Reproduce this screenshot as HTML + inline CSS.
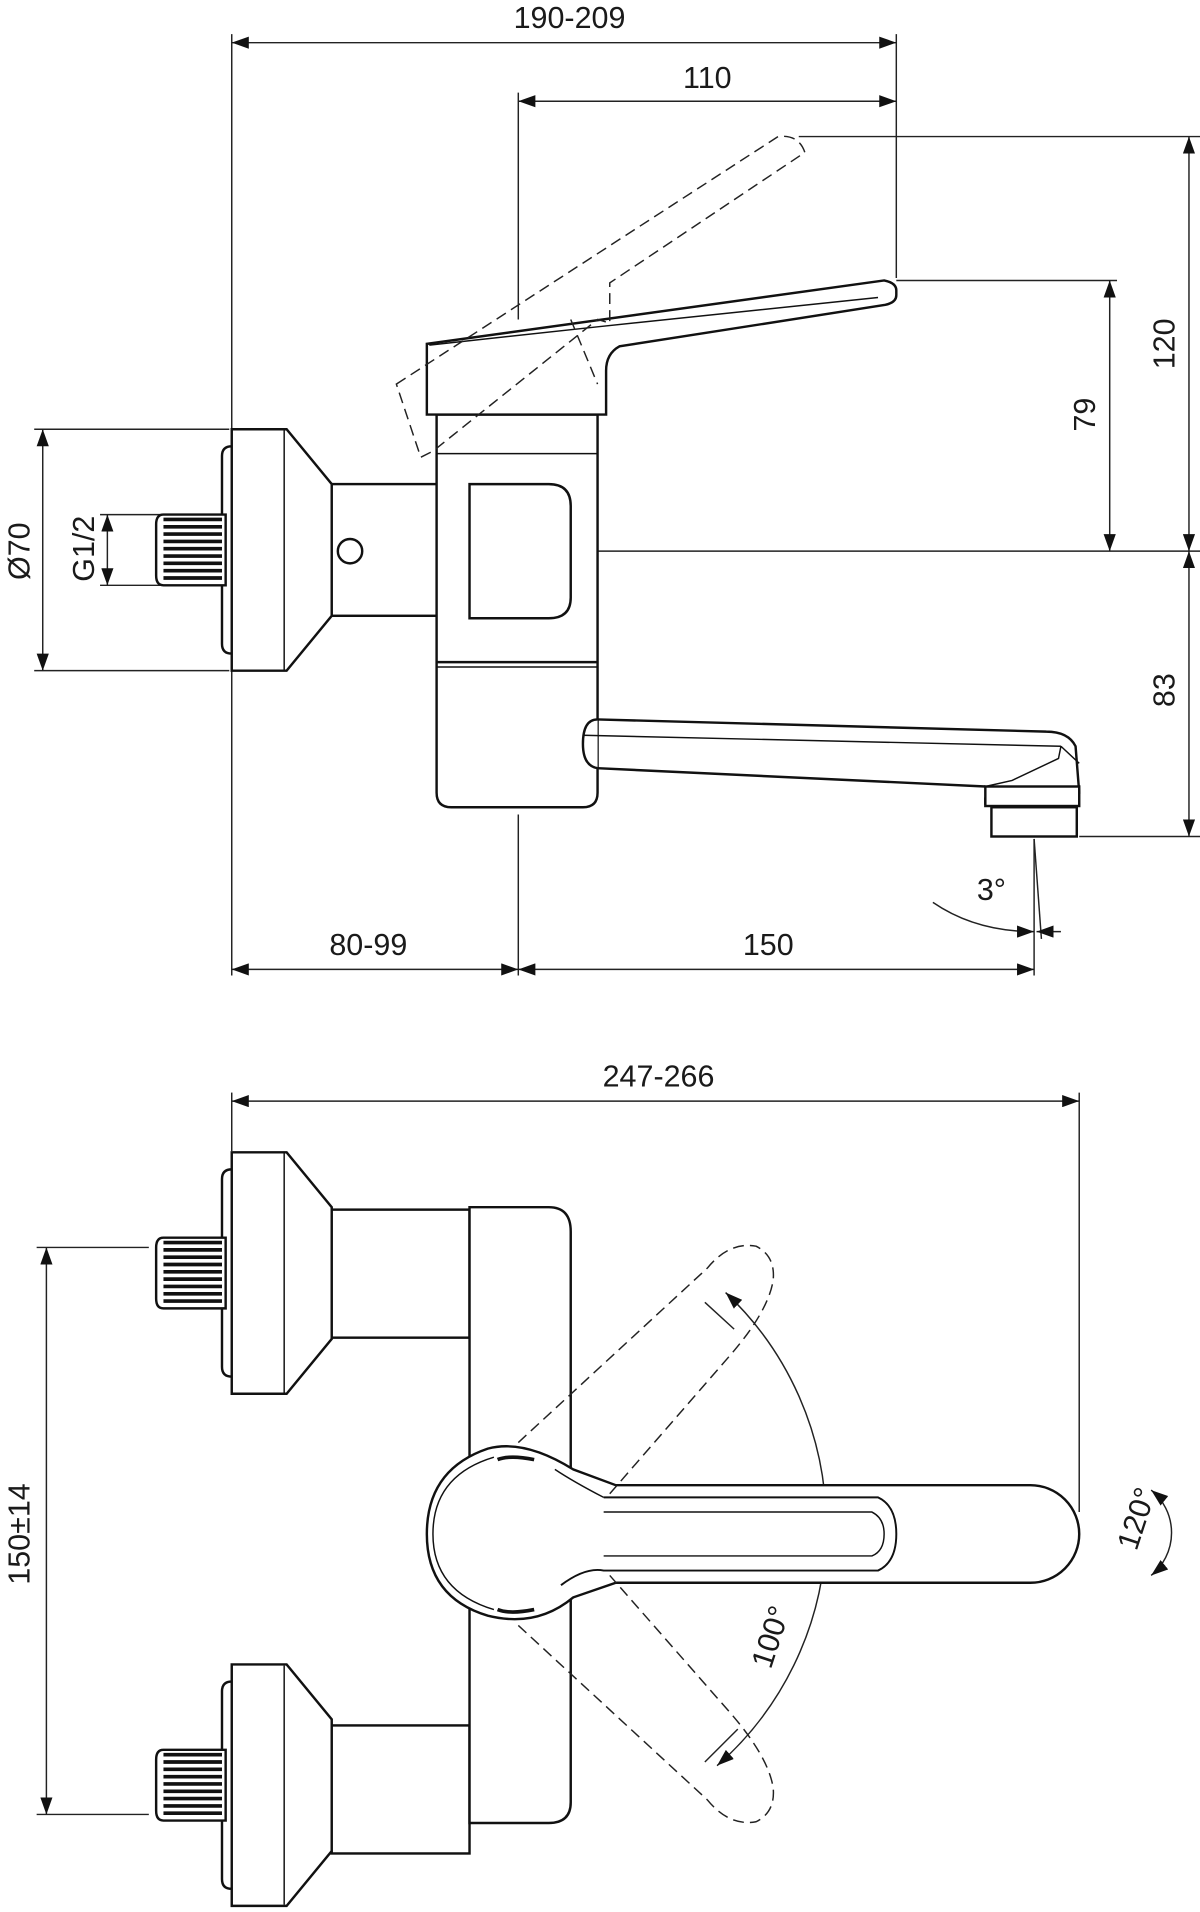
<!DOCTYPE html>
<html><head><meta charset="utf-8"><style>html,body{margin:0;padding:0;background:#fff}svg{display:block}text{font-family:"Liberation Sans",sans-serif;font-size:25px;fill:#1a1a1a}</style></head><body>
<svg width="1200" height="1912" viewBox="0 0 984 1568" xmlns="http://www.w3.org/2000/svg">
<defs>
<marker id="a" viewBox="0 0 14 10" refX="14" refY="5" markerWidth="14" markerHeight="10" markerUnits="userSpaceOnUse" orient="auto-start-reverse"><path d="M0,0L14,5L0,10z" fill="#111"/></marker>
<g id="fl" fill="none" stroke="#111" stroke-width="2">
<path d="M190,0H235L272,45V153L235,198H190Z" fill="#fff"/>
<line x1="233" y1="1" x2="233" y2="197" stroke-width="1.2"/>
<path d="M190,14Q182,14 182,22V176Q182,184 190,184" />
<path d="M185,70H134Q128,70 128,78V120Q128,128 134,128H185Z" fill="#fff"/>
<g stroke-width="3"><line x1="134" y1="74" x2="182" y2="74"/><line x1="134" y1="80" x2="182" y2="80"/><line x1="134" y1="86" x2="182" y2="86"/><line x1="134" y1="92" x2="182" y2="92"/><line x1="134" y1="98" x2="182" y2="98"/><line x1="134" y1="104" x2="182" y2="104"/><line x1="134" y1="110" x2="182" y2="110"/><line x1="134" y1="116" x2="182" y2="116"/><line x1="134" y1="122" x2="182" y2="122"/></g>
</g>
</defs>
<g stroke="#222" stroke-width="1.2" fill="none">
<line x1="190" y1="28" x2="190" y2="800"/>
<line x1="735" y1="28" x2="735" y2="228"/>
<line x1="190" y1="35" x2="735" y2="35" marker-start="url(#a)" marker-end="url(#a)"/>
<line x1="425" y1="76" x2="425" y2="262"/>
<line x1="425" y1="83" x2="735" y2="83" marker-start="url(#a)" marker-end="url(#a)"/>
<line x1="655" y1="112" x2="985" y2="112"/>
<line x1="735" y1="230" x2="916" y2="230"/>
<line x1="490" y1="452" x2="985" y2="452"/>
<line x1="885" y1="686" x2="985" y2="686"/>
<line x1="975" y1="112" x2="975" y2="452" marker-start="url(#a)" marker-end="url(#a)"/>
<line x1="910" y1="230" x2="910" y2="452" marker-start="url(#a)" marker-end="url(#a)"/>
<line x1="975" y1="452" x2="975" y2="686" marker-start="url(#a)" marker-end="url(#a)"/>
<line x1="28" y1="352" x2="188" y2="352"/>
<line x1="28" y1="550" x2="188" y2="550"/>
<line x1="35" y1="352" x2="35" y2="550" marker-start="url(#a)" marker-end="url(#a)"/>
<line x1="82" y1="422" x2="132" y2="422"/>
<line x1="82" y1="480" x2="132" y2="480"/>
<line x1="88" y1="422" x2="88" y2="480" marker-start="url(#a)" marker-end="url(#a)"/>
<line x1="425" y1="668" x2="425" y2="800"/>
<line x1="848" y1="688" x2="848" y2="800"/>
<line x1="848" y1="688" x2="854" y2="770"/>
<line x1="190" y1="795" x2="425" y2="795" marker-start="url(#a)" marker-end="url(#a)"/>
<line x1="425" y1="795" x2="848" y2="795" marker-start="url(#a)" marker-end="url(#a)"/>
<path d="M765,740Q800,764 848,764" marker-end="url(#a)"/>
<line x1="870" y1="764" x2="850" y2="764" marker-end="url(#a)"/>
<line x1="190" y1="896" x2="190" y2="944"/>
<line x1="885" y1="896" x2="885" y2="1240"/>
<line x1="190" y1="903" x2="885" y2="903" marker-start="url(#a)" marker-end="url(#a)"/>
<line x1="30" y1="1023" x2="122" y2="1023"/>
<line x1="30" y1="1488" x2="122" y2="1488"/>
<line x1="38" y1="1023" x2="38" y2="1488" marker-start="url(#a)" marker-end="url(#a)"/>
<path d="M588,1448A262,262 0 0 0 595,1060" marker-start="url(#a)" marker-end="url(#a)"/>
<line x1="578" y1="1445" x2="605" y2="1418"/>
<line x1="578" y1="1068" x2="602" y2="1090"/>
<path d="M944,1292A45,45 0 0 0 944,1222" marker-start="url(#a)" marker-end="url(#a)"/>
</g>
<text x="467" y="23" text-anchor="middle">190-209</text>
<text x="580" y="72" text-anchor="middle">110</text>
<text x="302" y="783" text-anchor="middle">80-99</text>
<text x="630" y="783" text-anchor="middle">150</text>
<text x="540" y="891" text-anchor="middle">247-266</text>
<text x="813" y="738" text-anchor="middle">3°</text>
<text transform="translate(963,282) rotate(-90)" text-anchor="middle">120</text>
<text transform="translate(898,340) rotate(-90)" text-anchor="middle">79</text>
<text transform="translate(963,566) rotate(-90)" text-anchor="middle">83</text>
<text transform="translate(24,452) rotate(-90)" text-anchor="middle">Ø70</text>
<text transform="translate(77,450) rotate(-90)" text-anchor="middle">G1/2</text>
<text transform="translate(24,1258) rotate(-90)" text-anchor="middle">150±14</text>
<text transform="translate(940,1248) rotate(-72)" text-anchor="middle">120°</text>
<text transform="translate(640,1345) rotate(-72)" text-anchor="middle">100°</text>
<use href="#fl" y="352"/>
<g fill="none" stroke="#111" stroke-width="2">
<rect x="272" y="397" width="113" height="108" fill="#fff"/>
<circle cx="287" cy="452" r="10" fill="#fff"/>
<path d="M358,340H490V650Q490,662 478,662H370Q358,662 358,650Z" fill="#fff"/>
<line x1="358" y1="372" x2="490" y2="372" stroke-width="1.2"/>
<line x1="358" y1="543" x2="490" y2="543"/>
<line x1="358" y1="547" x2="490" y2="547" stroke-width="1.2"/>
<path d="M385,397H450Q468,397 468,415V490Q468,507 450,507H385Z" fill="#fff"/>
<path d="M350,282L725,230Q735,232 735,238V242Q735,248 726,250L508,284Q497,290 497,304V340H350Z" fill="#fff"/>
<path d="M352,283L490,268L720,244" stroke-width="1.2"/>
<path d="M490,590L858,600Q876,600 882,612L885,650L808,655L808,660" fill="#fff"/>
<path d="M490,630L808,645" />
<path d="M490,590Q478,590 478,610Q478,628 490,630" fill="#fff"/>
<path d="M478,603L870,612M870,612L885,626M870,612L868,622L830,640L808,645" stroke-width="1.2"/>
<rect x="808" y="645" width="77" height="16" fill="#fff"/>
<rect x="813" y="662" width="70" height="24" fill="#fff"/>
</g>
<g fill="none" stroke="#222" stroke-width="1.2" stroke-dasharray="9,5">
<path d="M325,315L638,112Q655,110 660,125L500,232L500,265L490,262L355,370L345,375Z"/>
<path d="M468,262L490,315"/>
</g>
<use href="#fl" y="945"/>
<use href="#fl" y="1365"/>
<g fill="none" stroke="#111" stroke-width="2">
<rect x="272" y="992" width="113" height="105" fill="#fff"/>
<rect x="272" y="1415" width="113" height="105" fill="#fff"/>
<path d="M385,990H450Q468,990 468,1010V1478Q468,1495 450,1495H385Z" fill="#fff"/>
<path d="M845,1218H505L470,1205Q430,1180 400,1188Q350,1205 350,1258Q350,1310 400,1325Q440,1335 470,1310L505,1298H845A40,40 0 0 0 845,1218Z" fill="#fff"/>
<path d="M495,1228H720Q735,1235 735,1258Q735,1281 720,1288H495Q480,1285 460,1300" stroke-width="1.6"/>
<path d="M495,1240H715Q725,1245 725,1258Q725,1272 715,1276H495" stroke-width="1.2"/>
<path d="M495,1228Q470,1215 455,1205" stroke-width="1.2"/>
<path d="M405,1195Q355,1210 355,1258Q355,1305 405,1320" stroke-width="1.2"/>
<path d="M408,1197Q418,1193 438,1197" stroke-width="3"/>
<path d="M408,1320Q418,1324 438,1320" stroke-width="3"/>
</g>
<g fill="none" stroke="#222" stroke-width="1.2" stroke-dasharray="9,5">
<path d="M425,1183L580,1040Q598,1018 620,1022Q636,1030 634,1050Q630,1075 600,1110L500,1225"/>
<path d="M425,1333L580,1476Q598,1498 620,1494Q636,1486 634,1466Q630,1441 600,1406L500,1292"/>
</g>
</svg>
</body></html>
